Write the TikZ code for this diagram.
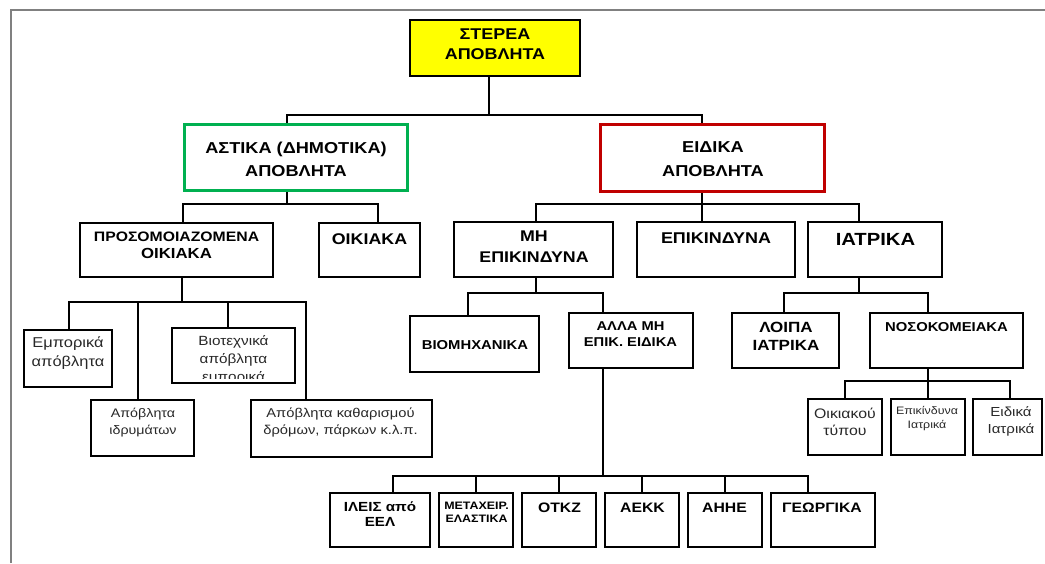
\documentclass[tikz,border=0pt]{standalone}
\usepackage{fontspec}
\setmainfont{Liberation Sans}[FakeStretch=1.15]
\definecolor{ylw}{RGB}{255,255,0}
\definecolor{grn}{RGB}{0,176,80}
\definecolor{rd}{RGB}{192,0,0}
\definecolor{frm}{RGB}{128,128,128}
\definecolor{lowtxt}{RGB}{40,40,40}
\newcommand\fsz[2]{\fontsize{#1pt}{#2pt}\selectfont}
\tikzset{
  wbox/.style={draw=black, line width=2.6pt, fill=white, inner sep=0pt, rectangle},
  conn/.style={draw=black, line width=2.4pt},
  bt/.style 2 args={inner sep=0pt, align=center, font={\bfseries\fsz{#1}{#2}}},
  lt/.style 2 args={inner sep=0pt, align=center, text=lowtxt, font={\fsz{#1}{#2}}},
}
\begin{document}
\begin{tikzpicture}[x=1pt,y=-1pt]
\useasboundingbox (0,0) rectangle (1045,563);
% frame
\draw[frm, line width=1.8pt] (11,563) -- (11,10) -- (1045,10);

% level 0
\node[wbox, fill=ylw, minimum width=170pt, minimum height=56pt] (ster) at (495,48) {};
\node[bt={15.6}{20}] (ster-t) at (495,44) {ΣΤΕΡΕΑ\\ΑΠΟΒΛΗΤΑ};

% level 1
\node[wbox, draw=grn, line width=3.2pt, minimum width=223pt, minimum height=66pt] (ast) at (296,157.5) {};
\node[bt={15.8}{23}] (ast-t) at (296,159.5) {ΑΣΤΙΚΑ (ΔΗΜΟΤΙΚΑ)\\ΑΠΟΒΛΗΤΑ};
\node[wbox, draw=rd, line width=3.6pt, minimum width=224pt, minimum height=67pt] (eid) at (712.5,158) {};
\node[bt={15.8}{24}] (eid-t) at (713,159) {ΕΙΔΙΚΑ\\ΑΠΟΒΛΗΤΑ};

% level 2
\node[wbox, minimum width=193pt, minimum height=54pt] (pros) at (176.5,250) {};
\node[bt={14.6}{17}] (pros-t) at (176.5,245.5) {{\fsz{13.7}{17}ΠΡΟΣΟΜΟΙΑΖΟΜΕΝΑ}\\ΟΙΚΙΑΚΑ};
\node[wbox, minimum width=101pt, minimum height=54pt] (oik) at (369.5,250) {};
\node[bt={15.5}{18}] (oik-t) at (369.5,239) {ΟΙΚΙΑΚΑ};
\node[wbox, minimum width=159pt, minimum height=55pt] (mh) at (533.5,249.5) {};
\node[bt={15.5}{21}] (mh-t) at (534,246.5) {ΜΗ\\ΕΠΙΚΙΝΔΥΝΑ};
\node[wbox, minimum width=158pt, minimum height=55pt] (epi) at (716,249.5) {};
\node[bt={15.6}{18}] (epi-t) at (716,238) {ΕΠΙΚΙΝΔΥΝΑ};
\node[wbox, minimum width=134pt, minimum height=55pt] (iat) at (875,249.5) {};
\node[bt={17.6}{20}] (iat-t) at (875.5,239) {ΙΑΤΡΙΚΑ};

% level 3 left
\node[wbox, minimum width=88pt, minimum height=57pt] (emp) at (68,358.5) {};
\node[lt={14.3}{19}] (emp-t) at (68,353.5) {Εμπορικά\\απόβλητα};
\node[wbox, minimum width=123pt, minimum height=55pt] (bio) at (233.5,355.5) {};
\begin{scope}
  \clip (171,327) rectangle (296,378);
  \node[lt={13.3}{18}] (bio-t) at (233.5,360) {Βιοτεχνικά\\απόβλητα\\εμπορικά};
\end{scope}
\node[wbox, minimum width=103pt, minimum height=56pt] (idr) at (142.5,428) {};
\node[lt={12.4}{17}] (idr-t) at (143,422.5) {Απόβλητα\\ιδρυμάτων};
\node[wbox, minimum width=181pt, minimum height=57pt] (kath) at (341.5,428.5) {};
\node[lt={12.8}{17}] (kath-t) at (340.5,422.5) {Απόβλητα καθαρισμού\\δρόμων, πάρκων κ.λ.π.};

% level 3 right
\node[wbox, minimum width=129pt, minimum height=56pt] (biom) at (474.5,344) {};
\node[bt={12.9}{16}] (biom-t) at (475,345) {ΒΙΟΜΗΧΑΝΙΚΑ};
\node[wbox, minimum width=124pt, minimum height=55pt] (alla) at (631,340.5) {};
\node[bt={12.8}{16}] (alla-t) at (630.5,334) {ΑΛΛΑ ΜΗ\\ΕΠΙΚ. ΕΙΔΙΚΑ};
\node[wbox, minimum width=107pt, minimum height=55pt] (loipa) at (785.5,340.5) {};
\node[bt={14.8}{18}] (loipa-t) at (786,336) {ΛΟΙΠΑ\\ΙΑΤΡΙΚΑ};
\node[wbox, minimum width=153pt, minimum height=55pt] (noso) at (946.5,340.5) {};
\node[bt={12.9}{16}] (noso-t) at (946.5,327) {ΝΟΣΟΚΟΜΕΙΑΚΑ};

% level 4 right
\node[wbox, minimum width=74pt, minimum height=56pt] (oikt) at (845,427) {};
\node[lt={13.8}{17}] (oikt-t) at (845,421.5) {Οικιακού\\τύπου};
\node[wbox, minimum width=74pt, minimum height=56pt] (epii) at (928,427) {};
\node[lt={10.8}{14}] (epii-t) at (927,419) {Επικίνδυνα\\Ιατρικά};
\node[wbox, minimum width=69pt, minimum height=56pt] (eidi) at (1007.5,427) {};
\node[lt={13.1}{17}] (eidi-t) at (1011,421.5) {Ειδικά\\Ιατρικά};

% bottom row
\node[wbox, minimum width=100pt, minimum height=54pt] (ileis) at (380,520) {};
\node[bt={13.2}{15}] (ileis-t) at (380,514.5) {ΙΛΕΙΣ από\\ΕΕΛ};
\node[wbox, minimum width=74pt, minimum height=54pt] (meta) at (476,520) {};
\node[bt={10.8}{13}] (meta-t) at (476.5,512.5) {ΜΕΤΑΧΕΙΡ.\\ΕΛΑΣΤΙΚΑ};
\node[wbox, minimum width=74pt, minimum height=54pt] (otkz) at (559,520) {};
\node[bt={13.7}{16}] (otkz-t) at (559.5,508) {ΟΤΚΖ};
\node[wbox, minimum width=74pt, minimum height=54pt] (aekk) at (642,520) {};
\node[bt={13.7}{16}] (aekk-t) at (642.5,508) {ΑΕΚΚ};
\node[wbox, minimum width=74pt, minimum height=54pt] (ahhe) at (725,520) {};
\node[bt={13.7}{16}] (ahhe-t) at (724.5,508) {ΑΗΗΕ};
\node[wbox, minimum width=104pt, minimum height=54pt] (geor) at (823,520) {};
\node[bt={13.7}{16}] (geor-t) at (822,508) {ΓΕΩΡΓΙΚΑ};

% connectors
\coordinate (b1) at (489,115);
\draw[conn] (ster.south -| b1) -- (b1);
\draw[conn] (ast.north -| 287,0) |- (b1) -| (eid.north -| 702,0);

\coordinate (b2) at (287,204);
\draw[conn] (ast.south -| b2) -- (b2);
\draw[conn] (pros.north -| 183,0) |- (b2) -| (oik.north -| 378,0);

\coordinate (b3) at (702,204);
\draw[conn] (eid.south -| b3) -- (epi.north -| b3);
\draw[conn] (mh.north -| 536,0) |- (b3) -| (iat.north -| 859,0);

\coordinate (b4) at (182,302);
\draw[conn] (pros.south -| b4) -- (b4);
\draw[conn] (emp.north -| 69,0) |- (b4) -| (kath.north -| 306,0);
\draw[conn] (idr.north -| 138,0) |- (b4);
\draw[conn] (bio.north -| 228,0) |- (b4);

\coordinate (b5) at (536,293);
\draw[conn] (mh.south -| b5) -- (b5);
\draw[conn] (biom.north -| 468,0) |- (b5) -| (alla.north -| 603,0);

\coordinate (b6) at (603,476);
\draw[conn] (alla.south -| b6) -- (b6);
\draw[conn] (ileis.north -| 393,0) |- (b6) -| (geor.north -| 808,0);
\draw[conn] (meta.north) |- (b6);
\draw[conn] (otkz.north) |- (b6);
\draw[conn] (aekk.north) |- (b6);
\draw[conn] (ahhe.north) |- (b6);

\coordinate (b7) at (859,293);
\draw[conn] (iat.south -| b7) -- (b7);
\draw[conn] (loipa.north -| 784,0) |- (b7) -| (noso.north -| 928,0);

\coordinate (b8) at (928,381);
\draw[conn] (noso.south -| b8) -- (b8);
\draw[conn] (oikt.north -| 845,0) |- (b8) -| (eidi.north -| 1010,0);
\draw[conn] (epii.north -| 928,0) -- (b8);
\end{tikzpicture}
\end{document}
